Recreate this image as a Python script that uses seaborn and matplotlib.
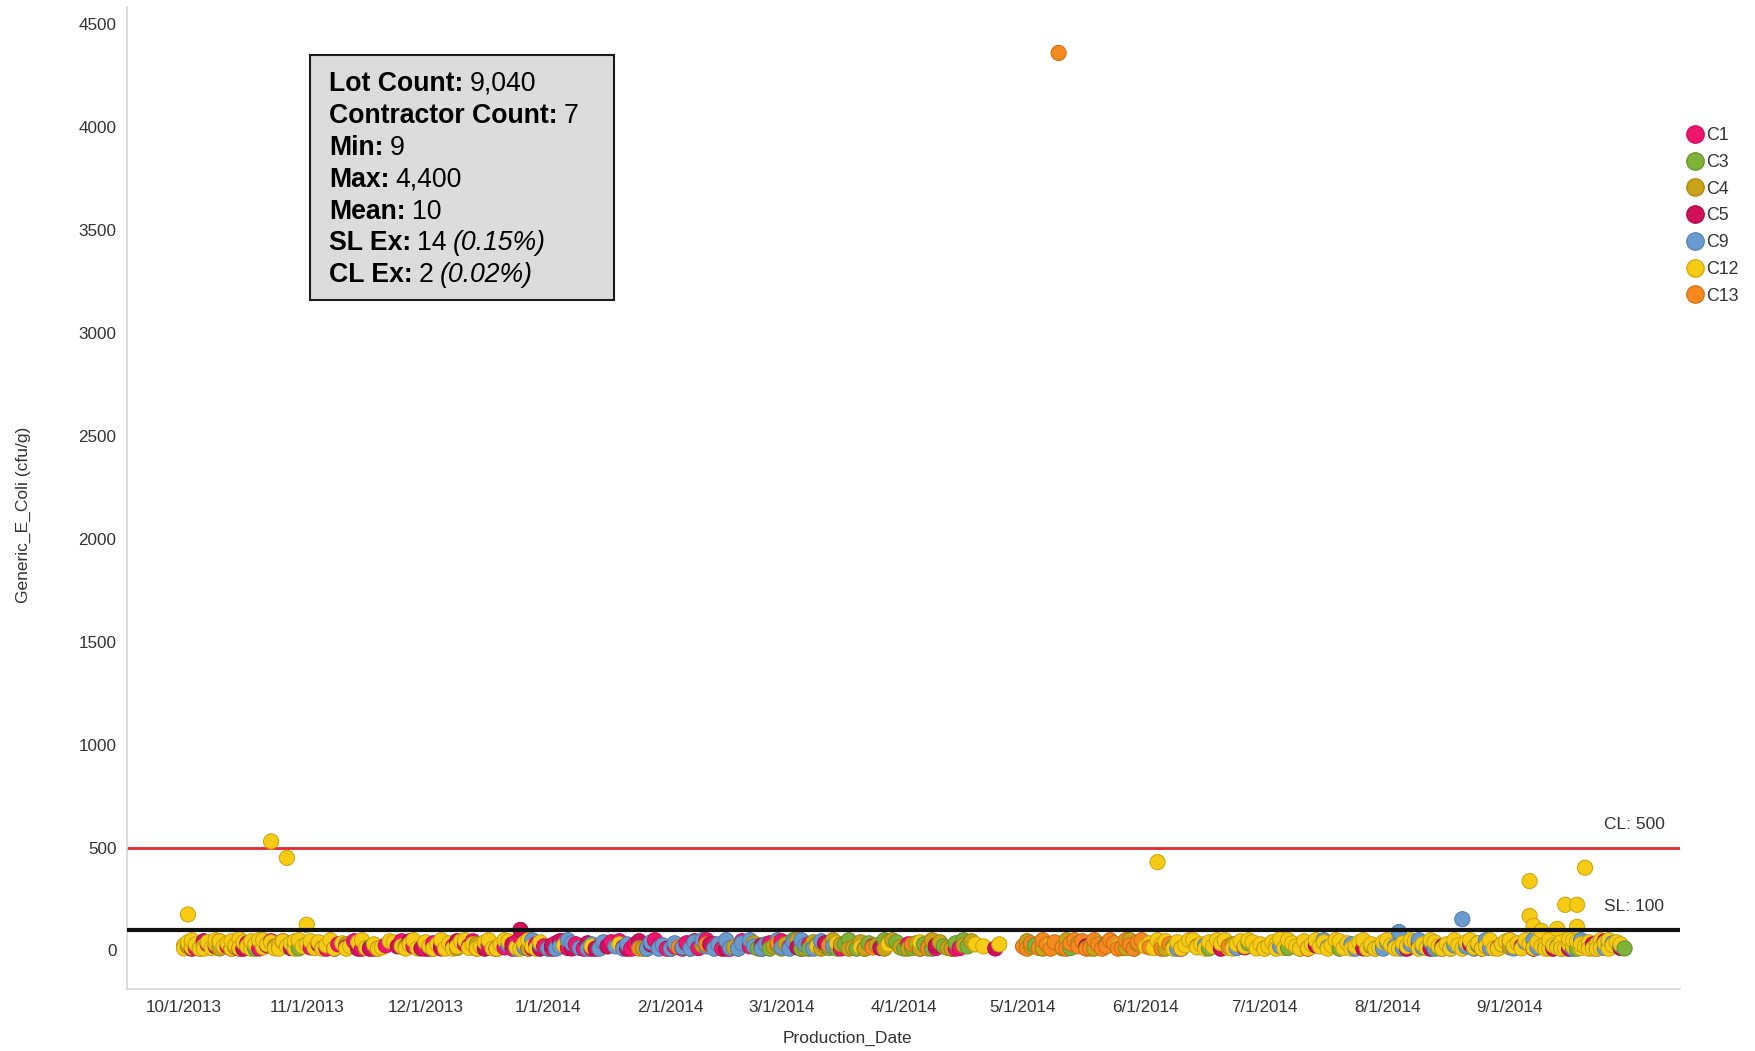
import pandas as pd
import matplotlib.pyplot as plt
from matplotlib.lines import Line2D
from matplotlib.patches import Rectangle
import seaborn as sns

# Valores: (días desde 10/1/2013, Generic_E_Coli)
start = pd.Timestamp('2013-10-01')
contractors = ['C1', 'C3', 'C4', 'C5', 'C9', 'C12', 'C13']
colors = ['#f0166e', '#7fb238', '#c9a318', '#d0105a', '#6a9bd0', '#f7cb14', '#f7891e']

c1 = [(3, 12), (6, 30), (11, 20), (16, 35), (19, 10), (24, 20), (32, 15), (39, 30), (45, 9), (51, 25),
      (58, 20), (63, 35), (65, 10), (68, 20), (71, 30), (74, 9), (77, 25), (81, 15), (84, 40), (85, 60),
      (87, 10), (89, 30), (91, 20), (94, 35), (97, 12), (99, 30), (101, 9), (105, 20), (108, 40), (111, 15),
      (114, 30), (117, 10), (120, 25), (124, 20), (127, 35), (130, 12), (134, 30), (138, 9), (143, 20),
      (148, 35), (153, 15), (158, 30), (166, 10), (174, 20), (183, 30), (190, 12), (195, 9), (196, 12),
      (9, 45), (14, 9), (22, 45), (36, 9), (43, 45), (48, 9), (55, 45), (61, 9), (73, 45), (79, 9), (83, 9),
      (93, 9), (96, 45), (103, 9), (110, 45), (113, 9), (119, 50), (122, 9), (126, 9), (132, 50), (136, 9),
      (141, 45), (146, 9), (151, 45), (156, 9)]

c3 = [(4, 9), (18, 9), (29, 10), (47, 15), (92, 9), (128, 9), (137, 20), (145, 10), (150, 25), (156, 9),
      (160, 30), (163, 12), (167, 30), (170, 9), (173, 35), (176, 20), (180, 40), (184, 12), (187, 30),
      (192, 20), (195, 35), (198, 20), (215, 25), (224, 12), (233, 30), (240, 9), (250, 20), (259, 10),
      (269, 35), (279, 12), (292, 9), (303, 20), (317, 10), (327, 25), (344, 12), (352, 9), (360, 20), (364, 10),
      (148, 9), (154, 50), (158, 9), (165, 9), (168, 50), (172, 9), (177, 50), (182, 9), (186, 9), (189, 9),
      (194, 9), (197, 50)]

c4 = [(1, 20), (5, 35), (9, 10), (13, 15), (17, 40), (23, 20), (28, 30), (35, 12), (41, 30), (49, 9),
      (56, 20), (63, 9), (69, 12), (74, 30), (79, 10), (87, 9), (116, 9), (131, 25), (139, 15), (144, 35),
      (149, 20), (152, 30), (157, 10), (159, 40), (162, 20), (166, 30), (169, 12), (171, 40), (175, 25),
      (178, 40), (181, 15), (185, 35), (188, 20), (191, 40), (193, 12), (197, 25), (199, 45), (214, 20),
      (222, 10), (226, 35), (229, 20), (238, 12), (241, 30), (248, 9), (256, 20), (265, 30), (273, 10),
      (300, 20), (335, 15), (357, 9),
      (146, 9), (151, 9), (155, 50), (161, 9), (164, 50), (168, 9), (172, 9), (177, 9), (179, 50), (183, 9),
      (186, 9), (189, 50), (194, 9), (213, 45), (217, 9), (223, 50), (230, 9), (239, 50)]

c5 = [(2, 9), (8, 20), (15, 9), (21, 25), (27, 12), (34, 30), (41, 15), (47, 9), (54, 20), (60, 10),
      (65, 25), (72, 20), (79, 9), (83, 30), (85, 100), (88, 12), (93, 25), (98, 10), (102, 35), (107, 20),
      (112, 9), (118, 30), (126, 15), (133, 30), (140, 10), (146, 25), (155, 15), (162, 35), (176, 12),
      (190, 25), (205, 10), (228, 20), (252, 9), (262, 9), (268, 15), (286, 25), (298, 10), (312, 35),
      (318, 20), (325, 30), (332, 12), (338, 20), (346, 9), (356, 30), (363, 12),
      (5, 45), (12, 9), (25, 45), (38, 9), (44, 9), (57, 45), (62, 9), (69, 45), (76, 9), (90, 9), (95, 45),
      (104, 9), (115, 45), (123, 9), (129, 45), (137, 9), (284, 9), (309, 9), (315, 9), (328, 9), (341, 9),
      (350, 9), (359, 45)]

c9 = [(82, 25), (86, 15), (90, 30), (92, 10), (95, 20), (98, 35), (100, 12), (103, 30), (106, 40), (109, 20),
      (112, 30), (115, 12), (118, 40), (121, 25), (124, 35), (126, 15), (129, 40), (132, 20), (135, 30),
      (138, 12), (141, 35), (144, 20), (147, 30), (151, 15), (154, 40), (157, 25), (161, 45), (164, 20),
      (251, 9), (258, 25), (266, 12), (277, 20), (282, 9), (289, 15), (295, 30), (301, 9), (304, 40),
      (306, 20), (307, 90), (308, 10), (310, 30), (313, 15), (315, 40), (318, 9), (321, 25), (323, 152),
      (324, 20), (327, 35), (330, 12), (333, 30), (336, 10), (339, 40), (342, 15), (347, 20), (351, 9),
      (355, 20), (359, 12), (361, 35), (363, 25),
      (84, 9), (88, 50), (94, 9), (97, 50), (102, 9), (105, 9), (111, 9), (117, 9), (120, 9), (123, 9),
      (128, 9), (131, 50), (134, 9), (137, 50), (140, 9), (143, 50), (146, 9), (150, 50), (153, 9),
      (156, 50), (159, 9), (288, 50), (296, 9), (303, 9), (312, 50), (316, 9), (320, 9), (326, 9),
      (329, 50), (335, 50), (341, 50), (348, 9), (353, 50), (357, 9), (360, 45)]

c12 = [(0, 25), (0, 10), (1, 175), (1, 40), (2, 15), (3, 30), (4, 9), (5, 20), (6, 40), (7, 12), (8, 30),
       (9, 45), (10, 20), (11, 35), (12, 9), (13, 25), (14, 55), (14, 12), (15, 40), (16, 20), (17, 9),
       (18, 30), (19, 50), (20, 15), (21, 30), (22, 530), (22, 40), (23, 10), (24, 25), (25, 45), (26, 450),
       (26, 20), (27, 35), (28, 9), (29, 50), (30, 20), (31, 125), (31, 30), (33, 12), (34, 40), (36, 25),
       (38, 10), (40, 35), (42, 20), (44, 40), (46, 12), (48, 30), (50, 15), (53, 40), (55, 20), (57, 30),
       (59, 10), (61, 40), (62, 20), (64, 30), (66, 9), (67, 35), (69, 20), (70, 45), (72, 12), (73, 30),
       (75, 20), (76, 40), (78, 10), (80, 30), (82, 45), (84, 15), (86, 35), (88, 20), (90, 40), (96, 25),
       (103, 20), (110, 30), (160, 20), (165, 35), (171, 15), (178, 30), (186, 40), (200, 30), (202, 20),
       (206, 30), (219, 25), (231, 35), (236, 20), (246, 429), (243, 20), (244, 35), (245, 12), (247, 30),
       (248, 45), (249, 20), (251, 40), (252, 10), (253, 25), (255, 50), (256, 15), (257, 30), (259, 40),
       (260, 20), (262, 35), (263, 50), (264, 12), (266, 30), (267, 45), (268, 20), (270, 40), (271, 10),
       (272, 30), (274, 20), (275, 40), (276, 30), (277, 55), (278, 12), (280, 35), (281, 20), (283, 45),
       (284, 10), (285, 30), (287, 20), (288, 40), (290, 25), (291, 50), (293, 12), (294, 35), (296, 20),
       (297, 40), (299, 9), (300, 30), (302, 15), (303, 40), (305, 25), (306, 10), (308, 35), (309, 20),
       (311, 45), (313, 30), (314, 12), (316, 40), (317, 20), (319, 30), (320, 9), (322, 25), (324, 40),
       (326, 15), (327, 35), (329, 20), (331, 10), (333, 30), (334, 45), (336, 20), (337, 35), (338, 10),
       (339, 50), (340, 337), (340, 168), (340, 30), (341, 120), (341, 12), (342, 40), (343, 20), (343, 95),
       (344, 30), (345, 9), (345, 50), (346, 25), (347, 105), (347, 15), (348, 40), (349, 222), (349, 10),
       (350, 30), (350, 55), (351, 20), (352, 222), (352, 45), (352, 115), (353, 12), (353, 30), (354, 402),
       (354, 20), (355, 40), (356, 10), (357, 30), (358, 50), (358, 15), (359, 35), (360, 9), (361, 25), (362, 40),
       (2, 50), (5, 9), (8, 50), (12, 45), (17, 45), (20, 50), (24, 9), (28, 45), (32, 45), (35, 9), (37, 50),
       (41, 9), (45, 50), (49, 9), (52, 45), (56, 9), (58, 50), (63, 9), (65, 50), (68, 9), (71, 50), (74, 9),
       (77, 50), (79, 9), (81, 50), (85, 9), (87, 50), (89, 9),
       (246, 50), (250, 9), (254, 50), (258, 9), (261, 50), (265, 9), (269, 50), (273, 9), (276, 9), (279, 50),
       (282, 9), (286, 50), (289, 9), (292, 45), (295, 9), (298, 50), (301, 9), (304, 50), (307, 9), (310, 50),
       (312, 9), (315, 50), (318, 9), (321, 50), (323, 9), (325, 50), (328, 9), (330, 50), (332, 9), (335, 50),
       (344, 9), (348, 9), (351, 50), (355, 9), (357, 9), (360, 50), (363, 30)]

c13 = [(115, 10), (125, 15), (132, 30), (150, 35), (163, 25), (174, 15), (184, 30), (188, 10), (212, 20),
       (214, 35), (216, 12), (218, 30), (220, 40), (221, 4360), (222, 15), (224, 35), (226, 20), (227, 45),
       (229, 10), (231, 30), (233, 20), (235, 35), (237, 12), (239, 25), (241, 40), (244, 15), (249, 30), (264, 20),
       (213, 9), (217, 50), (219, 9), (223, 9), (225, 50), (228, 9), (230, 50), (232, 9), (234, 50), (236, 9),
       (238, 50), (240, 9), (242, 50), (247, 9)]

month_ticks = ['10/1/2013', '11/1/2013', '12/1/2013', '1/1/2014', '2/1/2014', '3/1/2014',
               '4/1/2014', '5/1/2014', '6/1/2014', '7/1/2014', '8/1/2014', '9/1/2014']

stat_labels = ['Lot Count:', 'Contractor Count:', 'Min:', 'Max:', 'Mean:', 'SL Ex:', 'CL Ex:']
stat_values = ['9,040', '7', '9', '4,400', '10', '14', '2']
stat_notes = ['', '', '', '', '', '(0.15%)', '(0.02%)']

sl, cl = 100, 500

# armar dataframe
rows = []
for name, pts in zip(contractors, [c1, c3, c4, c5, c9, c12, c13]):
    for d, v in pts:
        rows.append((start + pd.Timedelta(days=d), name, v))
df = pd.DataFrame(rows, columns=['Production_Date', 'Contractor', 'Generic_E_Coli'])
df = df.sort_values('Production_Date', kind='stable')

sns.set_theme(style='white')
plt.rcParams['font.family'] = ['Liberation Sans', 'DejaVu Sans']

fig = plt.figure(figsize=(17.56, 10.51), dpi=100)
ax = fig.add_axes([0.0723, 0.059, 0.8844, 0.9343])

sns.scatterplot(data=df, x='Production_Date', y='Generic_E_Coli', hue='Contractor',
                hue_order=contractors, palette=colors, s=120, linewidth=0.7,
                legend=False, ax=ax, zorder=3)
coll = ax.collections[0]
fc = coll.get_facecolors()
ec = fc.copy()
ec[:, :3] *= 0.8
coll.set_edgecolors(ec)

# líneas de límite
ax.axhline(cl, color='#e32630', lw=2, zorder=2)
ax.axhline(sl, color='#111111', lw=3, zorder=4)
trans = ax.get_yaxis_transform()
ax.text(0.99, 613, f'CL: {cl}', transform=trans, ha='right', va='center', fontsize=12.5, color='#333333')
ax.text(0.99, 214, f'SL: {sl}', transform=trans, ha='right', va='center', fontsize=12.5, color='#333333')

ax.set_xlim(pd.Timestamp('2013-09-16 14:00'), pd.Timestamp('2014-10-14'))
ax.set_ylim(-187, 4583)
ax.set_xticks(pd.to_datetime(month_ticks, format='%m/%d/%Y'))
ax.set_xticklabels(month_ticks)
ax.set_yticks(range(0, 4501, 500))

for s in ['top', 'right']:
    ax.spines[s].set_visible(False)
for s in ['left', 'bottom']:
    ax.spines[s].set_color('#d6d6d6')
    ax.spines[s].set_linewidth(1.2)
ax.tick_params(axis='both', colors='#c0c0c0', labelcolor='#333333', labelsize=12.3, length=4, width=1)
ax.tick_params(axis='x', pad=4)

ax.set_xlabel('Production_Date', fontsize=12.5, color='#333333')
ax.set_ylabel('Generic_E_Coli (cfu/g)', fontsize=12.5, color='#333333')
ax.xaxis.set_label_coords(0.464, -0.043)
ax.yaxis.set_label_coords(-0.0618, 0.483)

# leyenda
handles = [Line2D([], [], marker='o', ls='', markersize=12.5, markerfacecolor=c,
                  markeredgecolor=tuple(x * 0.85 for x in plt.matplotlib.colors.to_rgb(c)))
           for c in colors]
fig.legend(handles, contractors, loc='upper left', bbox_to_anchor=(1686 / 1756, 1 - 127 / 1051),
           frameon=False, handletextpad=0.15, labelspacing=0.55, fontsize=12.8,
           borderaxespad=0, borderpad=0, handlelength=1.0, labelcolor='#333333')

# cuadro de estadísticas
W, H = 1756, 1051
fig.add_artist(Rectangle((310 / W, 1 - 300 / H), 304 / W, 245 / H, transform=fig.transFigure,
                         facecolor='#dcdcdc', edgecolor='#1a1a1a', lw=1.5, zorder=10))
fig.canvas.draw()
r = fig.canvas.get_renderer()
for i, (lab, val, note) in enumerate(zip(stat_labels, stat_values, stat_notes)):
    y = 1 - (84 + i * 31.9) / H
    t = fig.text(329 / W, y, lab, fontsize=19.2, fontweight='bold', va='center', zorder=11, color='black')
    x1 = t.get_window_extent(renderer=r).x1 + 6
    t2 = fig.text(x1 / W, y, val, fontsize=19.2, va='center', zorder=11, color='black')
    if note:
        x2 = t2.get_window_extent(renderer=r).x1 + 6
        fig.text(x2 / W, y, note, fontsize=19.2, style='italic', va='center', zorder=11, color='black')

plt.savefig('out.png', dpi=100)
